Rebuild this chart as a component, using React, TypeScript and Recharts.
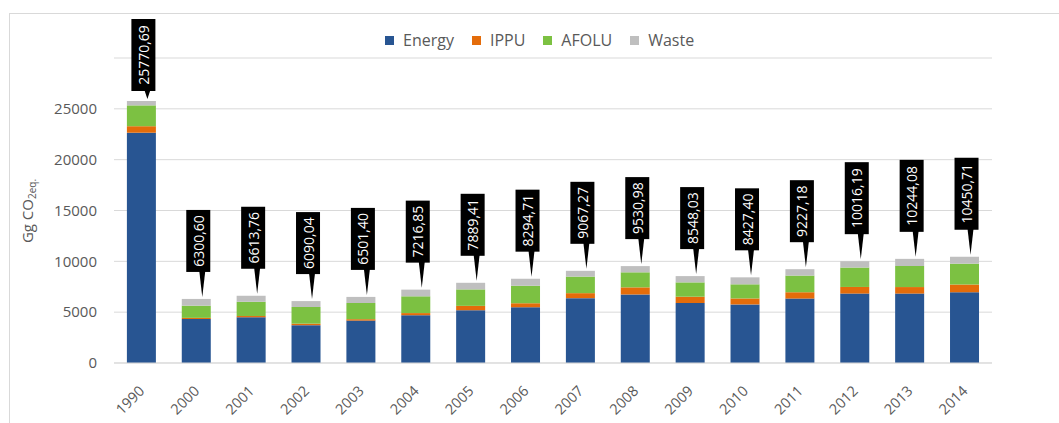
import { BarChart, Bar, XAxis, YAxis, CartesianGrid, LabelList, Label } from 'recharts';

const years = ['1990', '2000', '2001', '2002', '2003', '2004', '2005', '2006', '2007', '2008', '2009', '2010', '2011', '2012', '2013', '2014'];
const energy = [22650, 4330, 4500, 3720, 4170, 4700, 5190, 5480, 6380, 6740, 5900, 5760, 6340, 6830, 6830, 6960];
const ippu = [640, 110, 120, 150, 140, 210, 430, 400, 490, 700, 620, 590, 620, 650, 640, 760];
const afolu = [2050, 1200, 1400, 1640, 1590, 1650, 1620, 1730, 1630, 1480, 1410, 1390, 1640, 1910, 2070, 2050];
const waste = [431, 661, 594, 580, 601, 657, 649, 685, 567, 611, 618, 687, 627, 626, 704, 681];
const totalLabels = ['25770,69', '6300,60', '6613,76', '6090,04', '6501,40', '7216,85', '7889,41', '8294,71', '9067,27', '9530,98', '8548,03', '8427,40', '9227,18', '10016,19', '10244,08', '10450,71'];
const yTicks = [0, 5000, 10000, 15000, 20000, 25000];

const series = [
  { key: 'Energy', color: '#285592' },
  { key: 'IPPU', color: '#E46C0A' },
  { key: 'AFOLU', color: '#7CC142' },
  { key: 'Waste', color: '#BFBFBF' },
];

const rows = years.map((year, i) => ({
  year,
  Energy: energy[i],
  IPPU: ippu[i],
  AFOLU: afolu[i],
  Waste: waste[i],
}));

const FONT = '"Open Sans", sans-serif';
const TEXT = '#595959';

function Callout(props: any) {
  const { x, y, width, index } = props;
  const text = totalLabels[index];
  const cx = x + width / 2;
  const boxW = 24;
  const boxH = text.length * 10 - 8;
  let bottom = y - 27;
  let top = bottom - boxH;
  if (top < 19) {
    top = 19;
    bottom = top + boxH;
  }
  const mid = top + boxH / 2;
  return (
    <g>
      <path d={`M${cx + 3},${bottom - 1} L${cx + 9},${bottom - 1} L${cx + 6},${y - 2} Z`} fill="#000" />
      <rect x={cx + 2 - boxW / 2} y={top} width={boxW} height={boxH} fill="#000" />
      <text
        x={cx + 2}
        y={mid}
        transform={`rotate(-90, ${cx + 2}, ${mid})`}
        textAnchor="middle"
        dominantBaseline="central"
        fill="#fff"
        fontSize={14}
        fontFamily={FONT}
      >
        {text}
      </text>
    </g>
  );
}

function YearTick({ x, y, payload }: any) {
  return (
    <text
      x={x + 4}
      y={y + 21}
      transform={`rotate(-45, ${x + 4}, ${y + 21})`}
      textAnchor="end"
      fill={TEXT}
      fontSize={14.5}
      fontFamily={FONT}
    >
      {payload.value}
    </text>
  );
}

function LegendBox() {
  return (
    <div
      style={{
        position: 'absolute',
        left: 385,
        top: 29,
        display: 'flex',
        alignItems: 'center',
        fontFamily: FONT,
        fontSize: 16,
        color: TEXT,
      }}
    >
      {series.map((s) => (
        <div key={s.key} style={{ display: 'flex', alignItems: 'center', marginRight: 18 }}>
          <span style={{ width: 9, height: 9, background: s.color, display: 'inline-block', marginRight: 9 }} />
          <span>{s.key}</span>
        </div>
      ))}
    </div>
  );
}

export default function App() {
  return (
    <div style={{ position: 'absolute', left: 0, top: 0, width: 1059, height: 423, background: '#fff', overflow: 'hidden' }}>
      <div
        style={{
          position: 'absolute',
          left: 9,
          top: 13,
          width: 1100,
          height: 460,
          borderLeft: '1.5px solid #D9D9D9',
          borderTop: '1.5px solid #D9D9D9',
        }}
      />
      <div style={{ position: 'absolute', left: 0, top: 0 }}>
        <BarChart width={1059} height={423} data={rows} margin={{ top: 58, right: 67, left: 0, bottom: 0 }} barCategoryGap="23.5%">
          <CartesianGrid vertical={false} stroke="#D9D9D9" />
          <XAxis
            dataKey="year"
            height={60}
            axisLine={{ stroke: '#D9D9D9' }}
            tickLine={false}
            interval={0}
            tick={<YearTick />}
          />
          <YAxis
            width={114}
            domain={[0, 30000]}
            ticks={yTicks}
            axisLine={false}
            tickLine={false}
            tickMargin={11}
            tick={{ fill: TEXT, fontSize: 15, fontFamily: FONT }}
          >
            <Label
              content={() => (
                <text
                  x={33}
                  y={211}
                  transform="rotate(-90, 33, 211)"
                  textAnchor="middle"
                  fill={TEXT}
                  fontSize={15}
                  fontFamily={FONT}
                >
                  Gg CO
                  <tspan fontSize={10} dy={3}>2eq.</tspan>
                </text>
              )}
            />
          </YAxis>
          {series.map((s) => (
            <Bar key={s.key} dataKey={s.key} stackId="a" fill={s.color} isAnimationActive={false}>
              {s.key === 'Waste' ? <LabelList dataKey="Waste" content={<Callout />} /> : null}
            </Bar>
          ))}
        </BarChart>
      </div>
      <LegendBox />
    </div>
  );
}
